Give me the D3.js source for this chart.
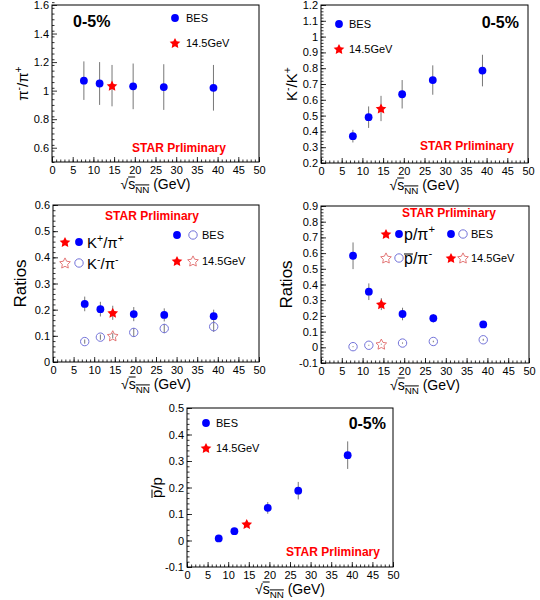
<!DOCTYPE html>
<html>
<head>
<meta charset="utf-8">
<script src="https://cdn.jsdelivr.net/npm/d3@7"></script>
<style>
  body { margin: 0; background: #fff; }
  svg { font-family: "Liberation Sans", Arial, sans-serif; }
</style>
</head>
<body>
<div id="chart"></div>
<script>
// energies (GeV)
const besEnergy = [7.7, 11.5, 19.6, 27, 39];
const newEnergy = [14.5];

// pi-/pi+
const piRatio = [1.07, 1.05, 1.03, 1.025, 1.02];
const piRatioErr = [0.135, 0.15, 0.16, 0.16, 0.16];
const piRatioNew = [1.035];
const piRatioNewErr = [0.145];

// K-/K+
const kRatio = [0.37, 0.49, 0.635, 0.725, 0.785];
const kRatioErr = [0.04, 0.068, 0.09, 0.093, 0.1];
const kRatioNew = [0.545];
const kRatioNewErr = [0.08];

// K+/pi+ and K-/pi-
const kpiPlus = [0.222, 0.202, 0.183, 0.18, 0.175];
const kpiPlusErr = [0.028, 0.028, 0.027, 0.025, 0.025];
const kpiPlusNew = [0.188];
const kpiPlusNewErr = [0.027];
const kpiMinus = [0.078, 0.095, 0.113, 0.128, 0.135];
const kpiMinusErr = [0.008, 0.01, 0.017, 0.018, 0.02];
const kpiMinusNew = [0.1];
const kpiMinusNewErr = [0.01];

// p/pi+ and pbar/pi-
const ppiPlus = [0.583, 0.354, 0.212, 0.185, 0.146];
const ppiPlusErr = [0.085, 0.053, 0.04, 0.027, 0.015];
const ppiPlusNew = [0.275];
const ppiPlusNewErr = [0.038];
const pbarpiMinus = [0.004, 0.013, 0.027, 0.037, 0.048];
const pbarpiMinusErr = [0.003, 0.003, 0.004, 0.005, 0.006];
const pbarpiMinusNew = [0.02];
const pbarpiMinusNewErr = [0.003];

// pbar/p
const pbarp = [0.008, 0.035, 0.123, 0.188, 0.322];
const pbarpErr = [0.004, 0.006, 0.022, 0.033, 0.052];
const pbarpNew = [0.062];
const pbarpNewErr = [0.008];

const W = 540, H = 600;
const BLUE = "#0000ff", RED = "#ff0000", OBLUE = "#7373d9", ORED = "#e06a6a";

const svg = d3.select("#chart").append("svg")
  .attr("width", W).attr("height", H);

// tiny TLatex-like writer: segments {t, mode:'sup'|'sub', bar:true}
function latex(parent, x, y, segs, size, opts) {
  opts = opts || {};
  const txt = parent.append("text")
    .attr("x", x).attr("y", y)
    .attr("font-size", size)
    .attr("fill", opts.fill || "#000")
    .attr("font-weight", opts.bold ? "bold" : null)
    .attr("text-anchor", opts.anchor || "start");
  let cur = 0, idx = 0;
  const bars = [];
  segs.forEach(s => {
    let target = 0, fs = size;
    if (s.mode === "sup") { target = -0.42 * size; fs = 0.7 * size; }
    if (s.mode === "sub") { target = 0.28 * size; fs = 0.7 * size; }
    txt.append("tspan").attr("dy", target - cur).attr("font-size", fs).text(s.t);
    cur = target;
    const n = Array.from(s.t).length;
    if (s.bar) bars.push([idx, idx + n - 1, s.barDy || 0]);
    idx += n;
  });
  const node = txt.node();
  bars.forEach(([a, b, off]) => {
    const e0 = node.getExtentOfChar(a), e1 = node.getExtentOfChar(b);
    const yy = Math.min(e0.y, e1.y) + off;
    parent.append("line")
      .attr("x1", e0.x).attr("x2", e1.x + e1.width)
      .attr("y1", yy).attr("y2", yy)
      .attr("stroke", opts.fill || "#000").attr("stroke-width", 1);
  });
  return txt;
}

// chunky 5-point star like ROOT marker 29/30
function starPath(R) {
  const r = R * 0.5, pts = [];
  for (let k = 0; k < 10; k++) {
    const a = -Math.PI / 2 + k * Math.PI / 5, rr = k % 2 ? r : R;
    pts.push([rr * Math.cos(a), rr * Math.sin(a)]);
  }
  return d3.line()(pts) + "Z";
}

function marker(g, type, cx, cy) {
  if (type === "circle") {
    g.append("circle").attr("cx", cx).attr("cy", cy).attr("r", 3.9).attr("fill", BLUE);
  } else if (type === "ocircle") {
    g.append("circle").attr("cx", cx).attr("cy", cy).attr("r", 4.2)
      .attr("fill", "none").attr("stroke", OBLUE).attr("stroke-width", 1);
  } else if (type === "star") {
    g.append("path").attr("d", starPath(5.6))
      .attr("transform", `translate(${cx},${cy + 0.5})`).attr("fill", RED);
  } else if (type === "ostar") {
    g.append("path").attr("d", starPath(5.6))
      .attr("transform", `translate(${cx},${cy + 0.5})`)
      .attr("fill", "none").attr("stroke", ORED).attr("stroke-width", 0.9);
  }
}

const fmt = d => String(+d.toFixed(2));
const range = (a, b, s) => d3.range(Math.round((b - a) / s) + 1).map(i => +(a + i * s).toFixed(4));

const xTitle = [{t: "\u221A"}, {t: "s", bar: true, barDy: 1}, {t: "NN", mode: "sub", bar: true, barDy: 1}, {t: " (GeV)"}];

function panel(cfg) {
  const {left, right, top, bottom} = cfg.frame;
  const g = svg.append("g");
  const x = d3.scaleLinear().domain([0, 50]).range([left, right]);
  const y = d3.scaleLinear().domain(cfg.yDomain).range([bottom, top]);

  // minor ticks
  g.append("g").attr("transform", `translate(0,${bottom})`)
    .call(d3.axisBottom(x).tickValues(range(0, 50, 1)).tickSize(-2.5).tickFormat(""))
    .call(a => a.select(".domain").remove());
  g.append("g").attr("transform", `translate(${left},0)`)
    .call(d3.axisLeft(y).tickValues(range(cfg.yDomain[0], cfg.yDomain[1], cfg.yMinor)).tickSize(-2.5).tickFormat(""))
    .call(a => a.select(".domain").remove());
  // major ticks
  g.append("g").attr("transform", `translate(0,${bottom})`)
    .call(d3.axisBottom(x).tickValues(range(0, 50, 5)).tickSize(-5).tickPadding(4).tickFormat(fmt))
    .call(a => a.select(".domain").remove())
    .call(a => a.selectAll("text").attr("font-size", 11).attr("font-family", null).attr("fill", "#000"));
  g.append("g").attr("transform", `translate(${left},0)`)
    .call(d3.axisLeft(y).tickValues(cfg.yTicks).tickSize(-5).tickPadding(3).tickFormat(fmt))
    .call(a => a.select(".domain").remove())
    .call(a => a.selectAll("text").attr("font-size", 11).attr("font-family", null).attr("fill", "#000"));
  g.selectAll(".tick line").attr("stroke", "#000").attr("stroke-width", 0.8);

  g.append("rect").attr("x", left).attr("y", top)
    .attr("width", right - left).attr("height", bottom - top)
    .attr("fill", "none").attr("stroke", "#000").attr("stroke-width", 1);

  // axis titles
  latex(g, (left + right) / 2, bottom + 27, xTitle, 14, {anchor: "middle"});
  const yt = g.append("g").attr("transform", `translate(${left - cfg.yTitleOff},${(top + bottom) / 2}) rotate(-90)`);
  latex(yt, 0, 5, cfg.yTitle, cfg.yTitleSize || 15, {anchor: "middle"});

  // data
  cfg.series.forEach(s => {
    s.x.forEach((xv, i) => {
      g.append("line")
        .attr("x1", x(xv)).attr("x2", x(xv))
        .attr("y1", y(s.y[i] - s.err[i])).attr("y2", y(s.y[i] + s.err[i]))
        .attr("stroke", "#777").attr("stroke-width", 1);
    });
  });
  cfg.series.forEach(s => {
    s.x.forEach((xv, i) => marker(g, s.type, x(xv), y(s.y[i])));
  });

  // labels and legends
  cfg.texts.forEach(t => latex(g, t.x, t.y, t.segs, t.size, t));
  cfg.legend.forEach(l => {
    l.marks.forEach((m, j) => marker(g, m, l.mx[j], l.y));
  });
}

const prelim = [{t: "STAR Prliminary"}];
const cent = [{t: "0-5%"}];
const bes = [{t: "BES"}];
const gev = [{t: "14.5GeV"}];

panel({
  frame: {left: 52, right: 259, top: 5, bottom: 162},
  yDomain: [0.5, 1.6], yTicks: range(0.6, 1.6, 0.2), yMinor: 0.04,
  yTitle: [{t: "\u03C0"}, {t: "-", mode: "sup"}, {t: "/\u03C0"}, {t: "+", mode: "sup"}], yTitleOff: 29,
  series: [
    {x: besEnergy, y: piRatio, err: piRatioErr, type: "circle"},
    {x: newEnergy, y: piRatioNew, err: piRatioNewErr, type: "star"}
  ],
  texts: [
    {x: 73, y: 27, segs: cent, size: 16, bold: true},
    {x: 186, y: 22, segs: bes, size: 11},
    {x: 186, y: 47, segs: gev, size: 11},
    {x: 179, y: 152, segs: prelim, size: 12, bold: true, fill: RED, anchor: "middle"}
  ],
  legend: [{marks: ["circle"], mx: [175], y: 18}, {marks: ["star"], mx: [175], y: 43}]
});

panel({
  frame: {left: 321, right: 528, top: 5, bottom: 163},
  yDomain: [0.2, 1.2], yTicks: range(0.2, 1.2, 0.1), yMinor: 0.02,
  yTitle: [{t: "K"}, {t: "-", mode: "sup"}, {t: "/K"}, {t: "+", mode: "sup"}], yTitleOff: 29,
  series: [
    {x: besEnergy, y: kRatio, err: kRatioErr, type: "circle"},
    {x: newEnergy, y: kRatioNew, err: kRatioNewErr, type: "star"}
  ],
  texts: [
    {x: 519, y: 28, segs: cent, size: 16, bold: true, anchor: "end"},
    {x: 349, y: 28, segs: bes, size: 11},
    {x: 349, y: 53, segs: gev, size: 11},
    {x: 467, y: 150, segs: prelim, size: 12, bold: true, fill: RED, anchor: "middle"}
  ],
  legend: [{marks: ["circle"], mx: [339], y: 24}, {marks: ["star"], mx: [339], y: 49}]
});

panel({
  frame: {left: 53, right: 259, top: 205, bottom: 362},
  yDomain: [0, 0.6], yTicks: range(0, 0.6, 0.1), yMinor: 0.02,
  yTitle: [{t: "Ratios"}], yTitleSize: 17, yTitleOff: 32,
  series: [
    {x: besEnergy, y: kpiPlus, err: kpiPlusErr, type: "circle"},
    {x: newEnergy, y: kpiPlusNew, err: kpiPlusNewErr, type: "star"},
    {x: besEnergy, y: kpiMinus, err: kpiMinusErr, type: "ocircle"},
    {x: newEnergy, y: kpiMinusNew, err: kpiMinusNewErr, type: "ostar"}
  ],
  texts: [
    {x: 152, y: 220, segs: prelim, size: 12, bold: true, fill: RED, anchor: "middle"},
    {x: 87, y: 248, segs: [{t: "K"}, {t: "+", mode: "sup"}, {t: "/\u03C0"}, {t: "+", mode: "sup"}], size: 15},
    {x: 87, y: 269, segs: [{t: "K"}, {t: "-", mode: "sup"}, {t: "/\u03C0"}, {t: "-", mode: "sup"}], size: 15},
    {x: 202, y: 239, segs: bes, size: 11},
    {x: 202, y: 265, segs: gev, size: 11}
  ],
  legend: [
    {marks: ["star", "circle"], mx: [65, 79], y: 242},
    {marks: ["ostar", "ocircle"], mx: [65, 79], y: 263},
    {marks: ["circle", "ocircle"], mx: [177, 193], y: 235},
    {marks: ["star", "ostar"], mx: [177, 193], y: 261}
  ]
});

panel({
  frame: {left: 321, right: 529, top: 206, bottom: 363},
  yDomain: [-0.1, 0.9], yTicks: range(-0.1, 0.9, 0.1), yMinor: 0.02,
  yTitle: [{t: "Ratios"}], yTitleSize: 17, yTitleOff: 34,
  series: [
    {x: besEnergy, y: ppiPlus, err: ppiPlusErr, type: "circle"},
    {x: newEnergy, y: ppiPlusNew, err: ppiPlusNewErr, type: "star"},
    {x: besEnergy, y: pbarpiMinus, err: pbarpiMinusErr, type: "ocircle"},
    {x: newEnergy, y: pbarpiMinusNew, err: pbarpiMinusNewErr, type: "ostar"}
  ],
  texts: [
    {x: 449, y: 217, segs: prelim, size: 12, bold: true, fill: RED, anchor: "middle"},
    {x: 404, y: 240, segs: [{t: "p/\u03C0"}, {t: "+", mode: "sup"}], size: 16},
    {x: 404, y: 264, segs: [{t: "p", bar: true, barDy: 4}, {t: "/\u03C0"}, {t: "-", mode: "sup"}], size: 16},
    {x: 471, y: 238, segs: bes, size: 11},
    {x: 471, y: 262, segs: gev, size: 11}
  ],
  legend: [
    {marks: ["star", "circle"], mx: [386, 399], y: 234},
    {marks: ["ostar", "ocircle"], mx: [386, 399], y: 258},
    {marks: ["circle", "ocircle"], mx: [451, 463], y: 234},
    {marks: ["star", "ostar"], mx: [451, 463], y: 258}
  ]
});

panel({
  frame: {left: 187, right: 393, top: 408, bottom: 567},
  yDomain: [-0.1, 0.5], yTicks: range(-0.1, 0.5, 0.1), yMinor: 0.02,
  yTitle: [{t: "p", bar: true, barDy: 4}, {t: "/p"}], yTitleOff: 30,
  series: [
    {x: besEnergy, y: pbarp, err: pbarpErr, type: "circle"},
    {x: newEnergy, y: pbarpNew, err: pbarpNewErr, type: "star"}
  ],
  texts: [
    {x: 386, y: 429, segs: cent, size: 16, bold: true, anchor: "end"},
    {x: 216, y: 427, segs: bes, size: 11},
    {x: 216, y: 452, segs: gev, size: 11},
    {x: 333, y: 556, segs: prelim, size: 12, bold: true, fill: RED, anchor: "middle"}
  ],
  legend: [{marks: ["circle"], mx: [206], y: 423}, {marks: ["star"], mx: [206], y: 448}]
});
</script>
</body>
</html>
